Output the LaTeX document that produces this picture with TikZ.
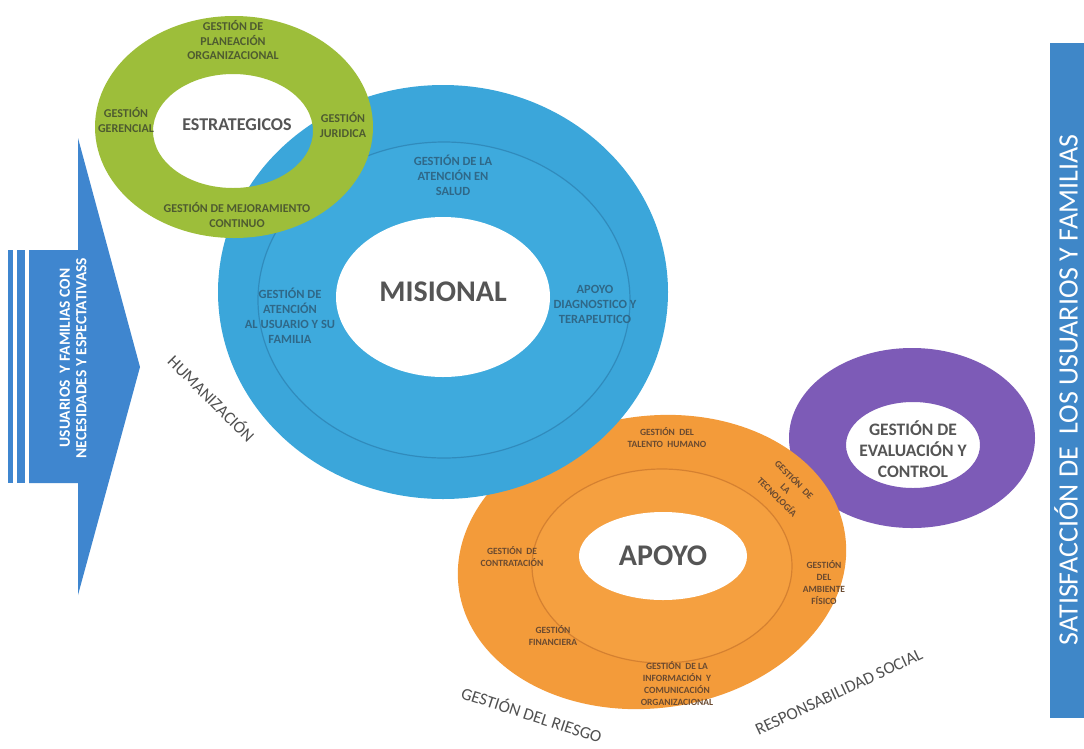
\documentclass[tikz,border=0pt]{standalone}
\usepackage{fontspec}
\setmainfont{Carlito}
\definecolor{gring}{HTML}{9DBE3A}
\definecolor{bring}{HTML}{3BA6DA}
\definecolor{binner}{HTML}{3EAADD}
\definecolor{bline}{HTML}{2C80B0}
\definecolor{oring}{HTML}{F39B3A}
\definecolor{oinner}{HTML}{F5A040}
\definecolor{oline}{HTML}{C8752C}
\definecolor{pring}{HTML}{7D5BB7}
\definecolor{arrowc}{HTML}{3F86CF}
\definecolor{barc}{HTML}{3F87C8}
\definecolor{gtxt}{HTML}{4E5B30}
\definecolor{btxt}{HTML}{2F6888}
\definecolor{otxt}{HTML}{6A4A30}
\definecolor{dtxt}{HTML}{555555}
\definecolor{htxt}{HTML}{505050}
\begin{document}
\begin{tikzpicture}[x=1pt,y=-1pt,
  glab/.style={align=center, text=gtxt, font=\bfseries\fontsize{12}{14.5}\selectfont, inner sep=0pt},
  blab/.style={align=center, text=btxt, font=\bfseries\fontsize{12.5}{15}\selectfont, inner sep=0pt},
  olab/.style={align=center, text=otxt, font=\bfseries\fontsize{9.5}{12}\selectfont, inner sep=0pt},
  core/.style={text=dtxt, font=\bfseries\fontsize{30}{32}\selectfont, inner sep=0pt},
  side/.style={text=htxt, font=\fontsize{17}{19}\selectfont, inner sep=0pt}]
\useasboundingbox (0,0) rectangle (1084,748);
\fill[white] (0,0) rectangle (1084,748);

% purple ring
\fill[pring, even odd rule] (912,438) ellipse [x radius=123pt, y radius=90pt]
  (913,445) ellipse [x radius=67pt, y radius=43pt];

% orange ring
\fill[oring] (652,562) ellipse [x radius=195pt, y radius=146pt, rotate=8];
\fill[oinner] (662,566) ellipse [x radius=130pt, y radius=97pt];
\draw[oline, line width=1.2pt, opacity=.7] (662,566) ellipse [x radius=130pt, y radius=97pt];
\fill[white] (663,556) ellipse [x radius=84pt, y radius=44pt];

% blue ring
\fill[bring] (443,292) ellipse [x radius=225pt, y radius=207pt];
\fill[binner] (444,300) ellipse [x radius=186pt, y radius=158pt];
\draw[bline, line width=1.2pt, opacity=.7] (444,300) ellipse [x radius=186pt, y radius=158pt];
\fill[white] (443,297) ellipse [x radius=107pt, y radius=80pt];

% green ring
\fill[gring, even odd rule] (234,127) ellipse [x radius=139pt, y radius=111pt]
  (233,131) ellipse [x radius=80pt, y radius=57pt];

% left arrow
\fill[arrowc] (8,250) rectangle (13,483);
\fill[arrowc] (17,250) rectangle (25,483);
\fill[arrowc] (29,250) -- (78,250) -- (78,138) -- (140,367) -- (78,595) -- (78,483) -- (29,483) -- cycle;
\node[rotate=90, text=white, font=\bfseries\fontsize{15.5}{16.5}\selectfont, align=center, inner sep=0pt]
  (usr) at (73,358) {USUARIOS~~Y FAMILIAS CON\\NECESIDADES Y ESPECTATIVASS};

% right bar
\fill[barc] (1050,43) rectangle (1084,718);
\node[rotate=90, text=white, font=\fontsize{28}{30}\selectfont, inner sep=0pt]
  (sat) at (1066,390) {SATISFACCIÓN DE~~LOS USUARIOS Y FAMILIAS};

% green labels
\node[glab] (gpl) at (233,40) {GESTIÓN DE\\PLANEACIÓN\\ORGANIZACIONAL};
\node[glab] (gge) at (126,120) {GESTIÓN\\GERENCIAL};
\node[glab] (gju) at (343,125) {GESTIÓN\\JURIDICA};
\node[glab] (gme) at (237,215) {GESTIÓN DE MEJORAMIENTO\\CONTINUO};
\node[text=dtxt, font=\bfseries\fontsize{18}{20}\selectfont, inner sep=0pt] (est) at (237,125) {ESTRATEGICOS};

% blue labels
\node[blab] (bsa) at (453,175) {GESTIÓN DE LA\\ATENCIÓN EN\\SALUD};
\node[blab] (bus) at (290,316) {GESTIÓN DE\\ATENCIÓN\\AL USUARIO Y SU\\FAMILIA};
\node[blab] (bdi) at (595,304) {APOYO\\DIAGNOSTICO Y\\TERAPEUTICO};
\node[core] (mis) at (443,292) {MISIONAL};

% orange labels
\node[olab] (oth) at (667,438) {GESTIÓN~~DEL\\TALENTO~~HUMANO};
\node[olab, rotate=-45] (ote) at (786,488) {GESTIÓN~~DE\\LA\\TECNOLOGÍA};
\node[olab] (oco) at (512,557) {GESTIÓN~~DE\\CONTRATACIÓN};
\node[olab] (oam) at (824,583) {GESTIÓN\\DEL\\AMBIENTE\\FÍSICO};
\node[olab] (ofi) at (553,636) {GESTIÓN\\FINANCIERA};
\node[olab] (oin) at (677,684) {GESTIÓN~~DE LA\\INFORMACIÓN~~Y\\COMUNICACIÓN\\ORGANIZACIONAL};
\node[core] (apo) at (663,556) {APOYO};

% purple label
\node[align=center, text=dtxt, font=\bfseries\fontsize{17.5}{21}\selectfont, inner sep=0pt]
  (gev) at (913,449) {GESTIÓN DE\\EVALUACIÓN Y\\CONTROL};

% side labels
\node[side, rotate=-45] (hum) at (212,398) {HUMANIZACIÓN};
\node[side, rotate=-18] (rie) at (532,714) {GESTIÓN DEL RIESGO};
\node[side, rotate=25] (res) at (839,692) {RESPONSABILIDAD SOCIAL};
\end{tikzpicture}
\end{document}
